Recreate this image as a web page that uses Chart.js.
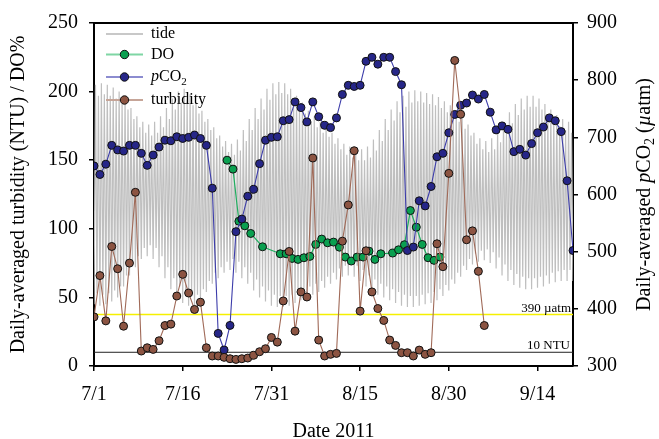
<!DOCTYPE html>
<html><head><meta charset="utf-8">
<script src="https://cdn.jsdelivr.net/npm/chart.js@4/dist/chart.umd.min.js"></script>
<style>html,body{margin:0;padding:0;background:#fff}#wrap{width:659px;height:439px;position:relative}canvas{display:block}</style>
</head><body><div id="wrap"><canvas id="c" width="659" height="439"></canvas></div>
<script>
// ---------------- data (days since 2011-07-01) ----------------
const xTickDays = [0, 15, 30, 45, 60, 75];
const xTickLabels = ['7/1', '7/16', '7/31', '8/15', '8/30', '9/14'];

// daily-averaged pCO2 (µatm), one value per day starting 7/1
const pco2Values = [650,635,653,686,678,676,686,686,672,651,669,683,695,694,701,698,700,704,698,686,
  611,357,328,371,535,557,597,609,654,695,700,701,729,731,762,752,727,762,736,721,
  717,734,775,791,789,791,833,840,828,840,840,815,792,502,508,589,580,614,666,672,
  708,740,756,760,774,767,775,744,713,720,714,675,679,669,689,708,718,734,729,710,624,502];

// daily-averaged turbidity (NTU), one value per day starting 7/1
const turbValues = [35.8,65.9,32.9,87.1,70.9,29,75,126.6,10.9,13.3,12.1,18.4,29.5,30.5,51,66.8,53.2,41.2,46.5,13.3,
  7.3,7.3,6.3,5.3,4.8,5.3,5.8,7.8,10.4,12.6,20.8,17.4,47.4,83.5,25.4,54,50.3,151.6,18.9,7.3,
  8.5,9.2,91,117.4,156.9,40,84,54,41.9,33.2,18.9,15,9.7,9.7,7.3,11.6,8.5,9.7,89.1,72.4,
  140.4,222.7,183.5,92,98.5,69,29.5];

// daily-averaged DO (%)
const doDays = [22.5,23.5,24.5,25.5,26.5,28.5,31.5,32.5,33.5,34.5,35.5,36.5,37.5,38.5,39.5,40.5,41.5,42.5,43.5,
  44.5,45.5,46.5,47.5,48.5,50.5,51.5,52.5,53.5,54.5,55.5,56.5,57.5,58.5];
const doValues = [150,143.5,105.5,102.2,96.6,86.9,81.8,81.8,78.4,77.7,78.9,79.9,88.6,92.5,89.8,90.3,86.6,79.4,76.5,
  79.4,79.4,83.7,77.7,81.8,82.3,84.7,88.4,113.3,101.2,88.6,78.9,77,79.4];

// tide (plotted on the left scale): two highs and two lows per day
const tideStepDays = 0.25;
const tideHigh = [205,197,206,198,205,197,203,195,200,192,195,187,188,180,182,174,178,170,176,168,
  178,170,182,174,188,180,195,187,200,192,202,194,198,190,192,184,186,178,180,172,
  174,166,168,160,164,156,162,154,165,157,172,164,180,172,188,180,195,187,202,194,
  206,198,207,199,206,198,202,194,197,189,192,184,186,178,182,174,178,170,175,167,
  170,162,166,158,162,154,160,152,158,150,158,150,160,152,165,157,172,164,180,172,
  187,179,193,185,197,189,200,192,201,193,200,192,199,191,198,190,196,188,193,185,
  190,182,186,178,181,173,176,168,170,162,166,158,164,156,166,158,171,163,178,170,
  185,177,191,183,195,187,197,189,197,189,195,187,191,183,187,179,183,175,180,172,
  178,170,178,170];
const tideLow = [45,53,44,52,45,53,47,55,50,58,58,66,66,74,72,80,78,86,80,88,
  78,86,72,80,64,72,56,64,50,58,46,54,44,52,44,52,48,56,54,62,
  60,68,64,72,68,76,70,78,68,76,64,72,60,68,55,63,50,58,47,55,
  44,52,43,51,43,51,44,52,46,54,48,56,50,58,52,60,54,62,57,65,
  60,68,63,71,65,73,66,74,65,73,62,70,58,66,55,63,52,60,50,58,
  48,56,46,54,44,52,43,51,43,51,44,52,45,53,46,54,48,56,51,59,
  55,63,60,68,65,73,70,78,74,82,76,84,77,85,75,83,71,79,66,74,
  62,70,59,67,57,65,56,64,56,64,57,65,58,66,60,68,61,69,62,70,
  62,70,62,70];

const refPco2 = 390;   // µatm
const refNtu = 10;     // NTU

// ---------------- build datasets ----------------
const pco2Pts = pco2Values.map((v, i) => ({x: i, y: v}));
const turbPts = turbValues.map((v, i) => ({x: i, y: v}));
const doPts = doValues.map((v, i) => ({x: doDays[i], y: v}));
const tidePts = [];
for (let i = 0; i < tideLow.length; i++) {
  tidePts.push({x: (2 * i) * tideStepDays, y: tideLow[i]});
  tidePts.push({x: (2 * i + 1) * tideStepDays, y: tideHigh[i]});
}

const SERIF = '"Liberation Serif","Times New Roman",serif';
Chart.defaults.font.family = SERIF;
Chart.defaults.color = '#000';

let baseSize = 20;
function fontFor(s) {
  if (s === 'i') return 'italic ' + baseSize + 'px ' + SERIF;
  if (s === 'sub') return Math.round(baseSize * 0.68) + 'px ' + SERIF;
  return baseSize + 'px ' + SERIF;
}
function drawRich(ctx, parts, cx, cy) {
  const widths = parts.map(p => { ctx.font = fontFor(p[1]); return ctx.measureText(p[0]).width; });
  const total = widths.reduce((a, b) => a + b, 0);
  let x = cx - total / 2;
  parts.forEach((p, k) => {
    ctx.font = fontFor(p[1]);
    ctx.fillText(p[0], x, cy + (p[1] === 'sub' ? 5 : 0));
    x += widths[k];
  });
}

const overlay = {
  id: 'overlay',
  beforeDatasetsDraw(chart) {
    const {ctx, chartArea: a, scales} = chart;
    ctx.save();
    const yP = scales.y1.getPixelForValue(refPco2);
    ctx.strokeStyle = '#f5f000'; ctx.lineWidth = 1.5;
    ctx.beginPath(); ctx.moveTo(a.left, yP); ctx.lineTo(a.right, yP); ctx.stroke();
    const yN = scales.y.getPixelForValue(refNtu);
    ctx.strokeStyle = '#222'; ctx.lineWidth = 1;
    ctx.beginPath(); ctx.moveTo(a.left, yN); ctx.lineTo(a.right, yN); ctx.stroke();
    ctx.fillStyle = '#000';
    ctx.font = '13px ' + SERIF;
    ctx.textAlign = 'right'; ctx.textBaseline = 'alphabetic';
    ctx.fillText(refPco2 + ' \u00b5atm', a.right - 2, yP - 3);
    ctx.fillText(refNtu + ' NTU', a.right - 3, yN - 3);
    ctx.restore();
  },
  afterDraw(chart) {
    const {ctx, chartArea: a} = chart;
    ctx.save();
    ctx.strokeStyle = '#000'; ctx.lineWidth = 2;
    ctx.beginPath(); ctx.moveTo(a.left - 1, a.top); ctx.lineTo(a.right + 1, a.top); ctx.stroke();
    ctx.fillStyle = '#000';
    ctx.textBaseline = 'middle'; ctx.textAlign = 'left';
    baseSize = 20;
    const cy = (a.top + a.bottom) / 2;
    ctx.save(); ctx.translate(19, cy); ctx.rotate(-Math.PI / 2);
    drawRich(ctx, [['Daily-averaged turbidity (NTU) / DO%', 'n']], 0, 0);
    ctx.restore();
    ctx.save(); ctx.translate(645, cy); ctx.rotate(-Math.PI / 2);
    drawRich(ctx, [['Daily-averaged ', 'n'], ['p', 'i'], ['CO', 'n'], ['2', 'sub'], [' (', 'n'], ['\u00b5', 'i'], ['atm)', 'n']], 0, 0);
    ctx.restore();
    drawRich(ctx, [['Date 2011', 'n']], (a.left + a.right) / 2, 432);
    baseSize = 16;
    const rows = [
      {name: [['tide', 'n']], line: '#c8c8c8', fill: null, y: 34},
      {name: [['DO', 'n']], line: '#7fd6a4', fill: '#0aa050', y: 54.5},
      {name: [['p', 'i'], ['CO', 'n'], ['2', 'sub']], line: '#8c8cd0', fill: '#262688', y: 77},
      {name: [['turbidity', 'n']], line: '#c6a598', fill: '#8c5442', y: 100}
    ];
    rows.forEach(r => {
      ctx.strokeStyle = r.line; ctx.lineWidth = 2;
      ctx.beginPath(); ctx.moveTo(106, r.y); ctx.lineTo(143, r.y); ctx.stroke();
      if (r.fill) {
        ctx.fillStyle = r.fill; ctx.strokeStyle = '#111'; ctx.lineWidth = 1;
        ctx.beginPath(); ctx.arc(124.5, r.y, 4.2, 0, Math.PI * 2); ctx.fill(); ctx.stroke();
      }
      ctx.fillStyle = '#000';
      let x = 151;
      r.name.forEach(p => {
        ctx.font = fontFor(p[1]);
        ctx.fillText(p[0], x, r.y + (p[1] === 'sub' ? 5 : 0));
        x += ctx.measureText(p[0]).width;
      });
    });
    ctx.restore();
  }
};

const axisGrid = {drawOnChartArea: false, drawTicks: true, tickLength: 5, color: '#000', lineWidth: 1.5};
const axisBorder = {display: true, color: '#000', width: 2};

new Chart(document.getElementById('c').getContext('2d'), {
  type: 'line',
  data: {datasets: [
    {label: 'tide', data: tidePts, yAxisID: 'y', borderColor: '#bfbfbf', borderWidth: 1.2, pointRadius: 0, order: 4},
    {label: 'DO', data: doPts, yAxisID: 'y', borderColor: '#1fae5f', borderWidth: 1.2, pointRadius: 4,
      pointBackgroundColor: '#0aa050', pointBorderColor: '#111', pointBorderWidth: 1, order: 3},
    {label: 'pCO2', data: pco2Pts, yAxisID: 'y1', borderColor: '#3c3caa', borderWidth: 1.1, pointRadius: 4,
      pointBackgroundColor: '#262688', pointBorderColor: '#111', pointBorderWidth: 1, order: 2},
    {label: 'turbidity', data: turbPts, yAxisID: 'y', borderColor: '#a06a58', borderWidth: 1.1, pointRadius: 4,
      pointBackgroundColor: '#8c5442', pointBorderColor: '#111', pointBorderWidth: 1, order: 1}
  ]},
  options: {
    responsive: false, animation: false, devicePixelRatio: 1,
    layout: {padding: {top: 22, left: 0, right: 0, bottom: 0}},
    plugins: {legend: {display: false}, tooltip: {enabled: false}},
    elements: {line: {tension: 0}},
    scales: {
      x: {type: 'linear', min: 0, max: 81,
        afterBuildTicks: s => { s.ticks = xTickDays.map(v => ({value: v})); },
        ticks: {callback: v => xTickLabels[xTickDays.indexOf(v)], font: {size: 20}, padding: 12, maxRotation: 0, autoSkip: false, color: '#000'},
        grid: axisGrid, border: axisBorder,
        afterFit: s => { s.height = 73; }},
      y: {position: 'left', min: 0, max: 250,
        ticks: {stepSize: 50, font: {size: 20}, padding: 11, color: '#000'},
        grid: axisGrid, border: axisBorder,
        afterFit: s => { s.width = 94; }},
      y1: {position: 'right', min: 300, max: 900,
        ticks: {stepSize: 100, font: {size: 20}, padding: 9, color: '#000'},
        grid: axisGrid, border: axisBorder,
        afterFit: s => { s.width = 86; }}
    }
  },
  plugins: [overlay]
});
</script>
</body></html>
